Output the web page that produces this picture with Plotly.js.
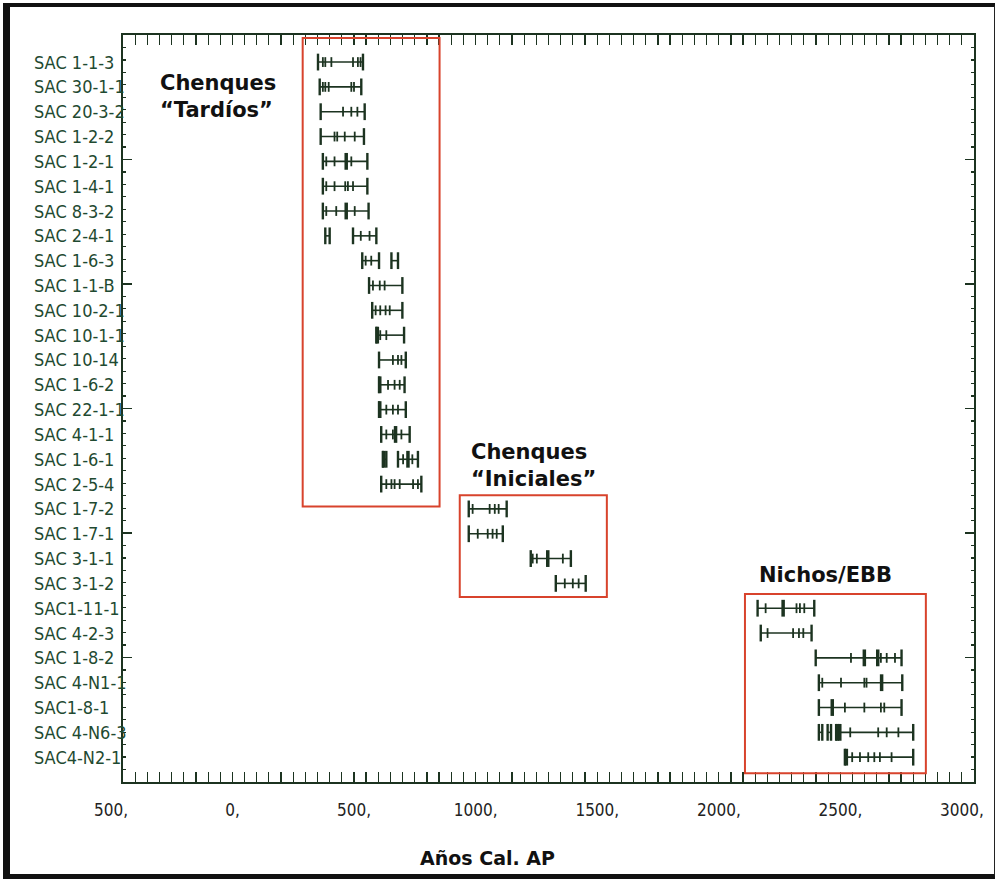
<!DOCTYPE html>
<html>
<head>
<meta charset="utf-8">
<script src="https://cdn.plot.ly/plotly-3.0.1.min.js"></script>
<style>
  html, body { margin: 0; padding: 0; background: #fff; }
  #wrap { position: relative; width: 995px; height: 879px; overflow: hidden; }
  #chart { width: 995px; height: 879px; }
  #frame {
    position: absolute; left: 3px; top: 3px; width: 984px; height: 867px;
    border-left: 7px solid #111; border-top: 4px solid #111;
    border-bottom: 5px solid #111; border-right: 2px solid #222;
    pointer-events: none;
  }
</style>
</head>
<body>
<div id="wrap">
  <div id="chart"></div>
  <div id="frame"></div>
</div>
<script>
// Calibrated radiocarbon ranges (years cal BP) for each burial sample
const labels = [
  "SAC 1-1-3", "SAC 30-1-1", "SAC 20-3-2", "SAC 1-2-2", "SAC 1-2-1", "SAC 1-4-1",
  "SAC 8-3-2", "SAC 2-4-1", "SAC 1-6-3", "SAC 1-1-B", "SAC 10-2-1", "SAC 10-1-1",
  "SAC 10-14", "SAC 1-6-2", "SAC 22-1-1", "SAC 4-1-1", "SAC 1-6-1", "SAC 2-5-4",
  "SAC 1-7-2", "SAC 1-7-1", "SAC 3-1-1", "SAC 3-1-2", "SAC1-11-1", "SAC 4-2-3",
  "SAC 1-8-2", "SAC 4-N1-1", "SAC1-8-1", "SAC 4-N6-3", "SAC4-N2-1"
];

// Calibrated intervals per sample (one or more [from, to] pieces)
const ranges = [
  [[302, 487]], [[309, 480]], [[313, 494]], [[313, 491]], [[322, 505]], [[322, 505]],
  [[322, 510]], [[332, 350], [446, 542]], [[484, 553], [604, 631]], [[512, 649]],
  [[525, 649]], [[542, 656]], [[553, 663]], [[553, 658]], [[553, 663]], [[562, 679]],
  [[569, 583], [631, 713]], [[562, 727]], [[922, 1078]], [[922, 1062]],
  [[1177, 1342]], [[1280, 1403]], [[2110, 2343]], [[2123, 2332]], [[2349, 2702]],
  [[2362, 2705]], [[2362, 2702]], [[2362, 2376], [2398, 2412], [2433, 2750]],
  [[2469, 2750]]
];

// Intercept marks inside each interval
const marks = [
  [322, 332, 357, 446, 466, 477], [322, 332, 346, 439, 450], [405, 439, 464],
  [370, 381, 412, 453], [336, 370, 439], [336, 370, 414, 425, 446], [336, 377, 453],
  [478, 514], [498, 521], [528, 556, 576], [539, 558, 580, 597], [558, 583],
  [610, 631, 645], [590, 617, 638], [583, 610, 631], [583, 610, 645], [652, 690],
  [583, 604, 617, 638, 693, 713], [938, 1008, 1029, 1045], [959, 1000, 1020, 1037],
  [1185, 1202, 1309], [1317, 1350, 1374], [2143, 2270, 2284, 2302],
  [2151, 2256, 2280, 2298], [2494, 2617, 2641, 2675], [2376, 2453, 2549, 2558],
  [2469, 2549, 2617, 2631], [2491, 2606, 2641, 2689], [2499, 2531, 2565, 2590, 2613, 2661]
];

// Main intercepts (heavier marks)
const peaks = [
  [], [], [], [], [418], [], [418], [], [], [], [], [546], [], [556], [556], [621],
  [572, 672], [], [], [], [1247], [], [2215], [], [2549, 2604], [2620], [2417],
  [2438, 2448], [2475]
];

const xTicks = [-500, 0, 500, 1000, 1500, 2000, 2500, 3000];
const xTickText = ["500,", "0,", "500,", "1000,", "1500,", "2000,", "2500,", "3000,"];

const groups = [
  { name: "Chenques<br>“Tardíos”", x0: 239, x1: 802, y0: -0.97, y1: 17.9, tx: -358, ty: 1.37 },
  { name: "Chenques<br>“Iniciales”", x0: 885, x1: 1490, y0: 17.45, y1: 21.55, tx: 925, ty: 16.24 },
  { name: "Nichos/EBB", x0: 2058, x1: 2802, y0: 21.43, y1: 28.65, tx: 2106, ty: 20.67 }
];

const ink = "#1c3320";
const labelInk = "#1f4a31";
const condensed = "DejaVu Sans Condensed, Liberation Sans Narrow, Arial Narrow, sans-serif";
const bold = "DejaVu Sans, Arial, sans-serif";

// Build line segments and caps
const lx = [], ly = [], cx = [], cy = [], mx = [], my = [], px = [], py = [];
ranges.forEach((row, i) => {
  row.forEach(([a, b]) => {
    lx.push(a, b, null); ly.push(i, i, null);
    cx.push(a, b); cy.push(i, i);
  });
  marks[i].forEach(v => { mx.push(v); my.push(i); });
  peaks[i].forEach(v => { px.push(v); py.push(i); });
});

const traces = [
  { type: "scatter", mode: "lines", x: lx, y: ly, line: { color: ink, width: 1.6 },
    hoverinfo: "skip", showlegend: false },
  { type: "scatter", mode: "markers", x: cx, y: cy, hoverinfo: "skip", showlegend: false,
    marker: { symbol: "line-ns", size: 12, line: { color: ink, width: 2.4 } } },
  { type: "scatter", mode: "markers", x: mx, y: my, hoverinfo: "skip", showlegend: false,
    marker: { symbol: "line-ns", size: 7, line: { color: ink, width: 1.8 } } },
  { type: "scatter", mode: "markers", x: px, y: py, hoverinfo: "skip", showlegend: false,
    marker: { symbol: "line-ns", size: 12, line: { color: ink, width: 3.5 } } },
  // carries the independent frame tick scale on the vertical sides
  { type: "scatter", mode: "none", x: [null], y: [null], yaxis: "y2",
    hoverinfo: "skip", showlegend: false }
];

const annotations = labels.map((t, i) => ({
  text: t, xref: "paper", yref: "y", x: -0.1069, y: i, xanchor: "left", yanchor: "middle",
  showarrow: false, font: { family: condensed, size: 18, color: labelInk }
}));

groups.forEach(g => {
  annotations.push({
    text: "<b>" + g.name.replace("<br>", "</b><br><b>") + "</b>",
    xref: "x", yref: "y", x: g.tx, y: g.ty, xanchor: "left", yanchor: "middle",
    align: "left", showarrow: false, font: { family: bold, size: 21, color: "#111" }
  });
});

annotations.push({
  text: "<b>Años Cal. AP</b>", xref: "paper", yref: "paper", x: 0.4288, y: -0.1024,
  xanchor: "center", yanchor: "middle", showarrow: false,
  font: { family: bold, size: 19, color: "#111" }
});

const shapes = groups.map(g => ({
  type: "rect", xref: "x", yref: "y", x0: g.x0, x1: g.x1, y0: g.y0, y1: g.y1,
  line: { color: "#d8432c", width: 2 }, fillcolor: "rgba(0,0,0,0)", layer: "above"
}));

const layout = {
  width: 995, height: 879,
  margin: { l: 123, r: 21, t: 35, b: 97 },
  paper_bgcolor: "#fff", plot_bgcolor: "#fff",
  showlegend: false,
  xaxis: {
    range: [-500, 3000], tickvals: xTicks, ticktext: xTickText,
    ticks: "inside", ticklen: 10, tickwidth: 1.5, tickcolor: ink,
    minor: { dtick: 50, ticks: "inside", ticklen: 3, tickcolor: ink, tickwidth: 1.2 },
    showline: true, linecolor: ink, linewidth: 2, mirror: "allticks",
    showgrid: false, zeroline: false,
    ticklabelshift: -12, ticklabelstandoff: 12,
    tickfont: { family: condensed, size: 17, color: "#222" }
  },
  yaxis: {
    range: [29.0, -1.09], showticklabels: false, ticks: "",
    showline: true, linecolor: ink, linewidth: 2, mirror: true,
    showgrid: false, zeroline: false
  },
  yaxis2: {
    overlaying: "y", side: "left", range: [0, 6], dtick: 1,
    ticks: "inside", ticklen: 9, tickwidth: 1.5, tickcolor: ink,
    minor: { dtick: 0.1, ticks: "inside", ticklen: 3, tickcolor: ink, tickwidth: 1.2 },
    showticklabels: false, showline: false, mirror: "allticks",
    showgrid: false, zeroline: false
  },
  annotations: annotations,
  shapes: shapes
};

Plotly.newPlot("chart", traces, layout, { staticPlot: true, displayModeBar: false });
</script>
</body>
</html>
